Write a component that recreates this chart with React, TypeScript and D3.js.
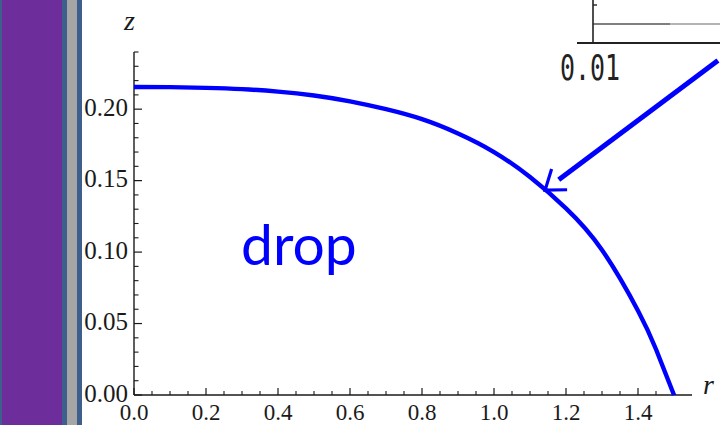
import React from "react";
import * as d3 from "d3";

// Drop profile z(r)
const radii = [0, 0.1, 0.2, 0.3, 0.4, 0.5, 0.6, 0.7, 0.8, 0.9, 1.0, 1.1, 1.2, 1.3, 1.4, 1.45, 1.5];
const heights = [0.2155, 0.2154, 0.2149, 0.214, 0.2123, 0.2096, 0.2055, 0.2, 0.193, 0.183, 0.17, 0.1525, 0.1306, 0.1015, 0.059, 0.032, 0];

const xTicks = [0.0, 0.2, 0.4, 0.6, 0.8, 1.0, 1.2, 1.4];
const xTickLabels = ["0.0", "0.2", "0.4", "0.6", "0.8", "1.0", "1.2", "1.4"];
const yTicks = [0.0, 0.05, 0.1, 0.15, 0.2];
const yTickLabels = ["0.00", "0.05", "0.10", "0.15", "0.20"];

// Arrow annotation (data units): tail off to the upper right, tip on the curve
const arrowTail = [1.622, 0.234];
const arrowTip = [1.142, 0.1434];

const W = 720;
const H = 425;

export default function App() {
  const x = d3.scaleLinear().domain([0, 1.55]).range([134, 692]);
  const y = d3.scaleLinear().domain([0, 0.24]).range([395, 52]);

  const pts: [number, number][] = radii.map((r, i) => [r, heights[i]]);
  const line = d3
    .line<[number, number]>()
    .x((d) => x(d[0]))
    .y((d) => y(d[1]))
    .curve(d3.curveNatural);

  const xMinor = d3.range(0.05, 1.55, 0.05).filter((v) => Math.abs(v / 0.2 - Math.round(v / 0.2)) > 1e-6);
  const yMinor = d3.range(0.01, 0.245, 0.01).filter((v) => Math.abs(v / 0.05 - Math.round(v / 0.05)) > 1e-6);

  const axisCol = "#1a1a1a";
  const serif = "'Liberation Serif', 'Times New Roman', serif";

  // arrow geometry
  const tx = x(arrowTip[0]);
  const ty = y(arrowTip[1]);
  const sx = x(arrowTail[0]);
  const sy = y(arrowTail[1]);
  const len = Math.hypot(sx - tx, sy - ty);
  const ux = (sx - tx) / len;
  const uy = (sy - ty) / len;
  const headLen = 22;
  const ang = (36 * Math.PI) / 180;
  const rot = (a: number) => [ux * Math.cos(a) - uy * Math.sin(a), ux * Math.sin(a) + uy * Math.cos(a)];
  const a1 = rot(ang);
  const a2 = rot(-ang);
  const shaftEndX = tx + ux * 17;
  const shaftEndY = ty + uy * 17;

  return (
    <svg
      width={W}
      height={H}
      viewBox={`0 0 ${W} ${H}`}
      style={{ position: "absolute", left: 0, top: 0, background: "#fff" }}
    >
      {/* side panel strips */}
      <rect x={0} y={0} width={2} height={H} fill="#3e5e8c" />
      <rect x={2} y={0} width={60} height={H} fill="#6d2e9b" />
      <rect x={62} y={0} width={5} height={H} fill="#3e5e8c" />
      <rect x={67} y={0} width={10} height={H} fill="#a6a6a6" />
      <rect x={77} y={0} width={5} height={H} fill="#3e5e8c" />

      {/* inset fragment, top right */}
      <g>
        <line x1={593} y1={24} x2={670} y2={24} stroke="#555" strokeWidth={1.6} />
        <line x1={670} y1={24} x2={720} y2={24} stroke="#9a9a9a" strokeWidth={1.6} />
        <line x1={593} y1={0} x2={593} y2={43} stroke="#222" strokeWidth={1.6} />
        <line x1={593} y1={5} x2={597} y2={5} stroke="#222" strokeWidth={1.4} />
        <line x1={577} y1={43} x2={720} y2={43} stroke="#222" strokeWidth={1.8} />
        <text
          x={560}
          y={80}
          fontFamily="'DejaVu Sans Mono', 'Liberation Mono', monospace"
          fontSize={35}
          fill="#222"
          textLength={60}
          lengthAdjust="spacingAndGlyphs"
        >
          0.01
        </text>
      </g>

      {/* axes */}
      <line x1={x(0)} y1={y(0)} x2={692} y2={y(0)} stroke={axisCol} strokeWidth={1.4} />
      <line x1={x(0)} y1={y(0)} x2={x(0)} y2={52} stroke={axisCol} strokeWidth={1.4} />

      {xTicks.map((t) => (
        <line key={"xt" + t} x1={x(t)} x2={x(t)} y1={y(0)} y2={y(0) - 7} stroke={axisCol} strokeWidth={1.2} />
      ))}
      {xMinor.map((t) => (
        <line key={"xm" + t} x1={x(t)} x2={x(t)} y1={y(0)} y2={y(0) - 4} stroke={axisCol} strokeWidth={1.1} />
      ))}
      {yTicks.map((t) => (
        <line key={"yt" + t} x1={x(0)} x2={x(0) + 8} y1={y(t)} y2={y(t)} stroke={axisCol} strokeWidth={1.2} />
      ))}
      {yMinor.map((t) => (
        <line key={"ym" + t} x1={x(0)} x2={x(0) + 4.5} y1={y(t)} y2={y(t)} stroke={axisCol} strokeWidth={1.1} />
      ))}

      {xTicks.map((t, i) => (
        <text key={"xl" + t} x={x(t)} y={420} textAnchor="middle" fontFamily={serif} fontSize={23} fill="#1a1a1a">
          {xTickLabels[i]}
        </text>
      ))}
      {yTicks.map((t, i) => (
        <text
          key={"yl" + t}
          x={128}
          y={y(t)}
          dy="0.26em"
          textAnchor="end"
          fontFamily={serif}
          fontSize={25}
          fill="#1a1a1a"
        >
          {yTickLabels[i]}
        </text>
      ))}

      {/* axis labels */}
      <text x={124} y={30} fontFamily={serif} fontStyle="italic" fontSize={28} fill="#1a1a1a">
        z
      </text>
      <text x={703} y={394} fontFamily={serif} fontStyle="italic" fontSize={28} fill="#1a1a1a">
        r
      </text>

      {/* drop profile */}
      <path d={line(pts) || ""} fill="none" stroke="#0000ff" strokeWidth={4.4} />

      {/* arrow */}
      <line x1={sx} y1={sy} x2={shaftEndX} y2={shaftEndY} stroke="#0000ff" strokeWidth={5} />
      <polyline
        points={`${tx + a1[0] * headLen},${ty + a1[1] * headLen} ${tx},${ty} ${tx + a2[0] * headLen},${ty + a2[1] * headLen}`}
        fill="none"
        stroke="#0000ff"
        strokeWidth={3.2}
      />

      <text x={241} y={265} fontFamily="Lato, 'Open Sans', sans-serif" fontSize={57} fill="#0000ff">
        drop
      </text>
    </svg>
  );
}
